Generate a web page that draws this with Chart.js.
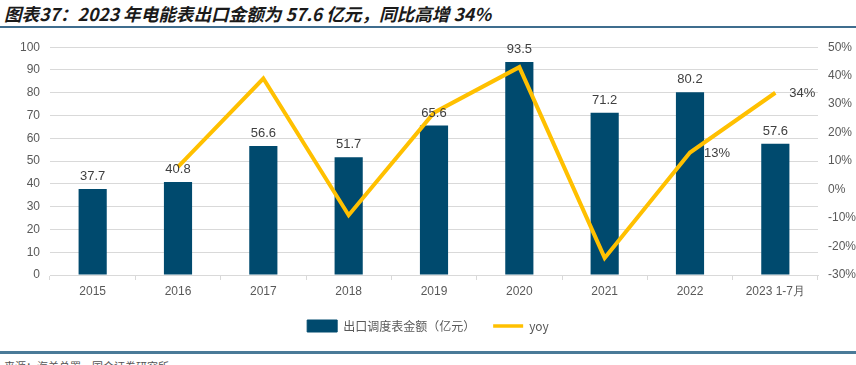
<!DOCTYPE html>
<html>
<head>
<meta charset="utf-8">
<script src="https://cdn.jsdelivr.net/npm/chart.js@4.4.0/dist/chart.umd.min.js"></script>
<style>
  body { margin: 0; background: #fff; width: 856px; height: 365px; overflow: hidden; position: relative; font-family: "Noto Sans CJK SC", "Liberation Sans", sans-serif; }
  .title { position: absolute; left: 4px; top: 1px; font-size: 17.6px; font-weight: bold; font-style: italic; color: #1a1a1a; white-space: nowrap; }
  .topline { position: absolute; left: 0; top: 26px; width: 856px; height: 2px; background: #3f6d8e; }
  .box { position: absolute; left: 0; top: 30px; width: 856px; height: 312px; }
  .bottomline { position: absolute; left: 0; top: 351px; width: 856px; height: 3px; background: #4a7a98; }
  .source { position: absolute; left: 4px; top: 358px; font-size: 11px; color: #555; white-space: nowrap; }
</style>
</head>
<body>
<div class="title">图表37：2023 年电能表出口金额为 57.6 亿元，同比高增 34%</div>
<div class="topline"></div>
<div class="box"><canvas id="chart"></canvas></div>
<div class="bottomline"></div>
<div class="source">来源：海关总署，国金证券研究所</div>
<script>
// categories and values
const categories = ["2015", "2016", "2017", "2018", "2019", "2020", "2021", "2022", "2023 1-7月"];
const exportValues = [37.7, 40.8, 56.6, 51.7, 65.6, 93.5, 71.2, 80.2, 57.6];
const yoyValues = [null, 8, 39, -9, 27, 43, -24, 13, 34];
const yoyLabels = [null, null, null, null, null, null, null, "13%", "34%"];

const barColor = "#004a6e";
const lineColor = "#ffc000";
const textColor = "#595959";
const gridColor = "#d9d9d9";

// draw value labels over bars and chosen line points
const valueLabels = {
  id: "valueLabels",
  afterDatasetsDraw(chart) {
    const ctx = chart.ctx;
    ctx.save();
    ctx.fillStyle = "#404040";
    ctx.font = "13px 'Liberation Sans', Arial, sans-serif";

    const bars = chart.getDatasetMeta(0);
    ctx.textAlign = "center";
    ctx.textBaseline = "bottom";
    bars.data.forEach((bar, i) => {
      ctx.fillText(exportValues[i].toFixed(1), bar.x, bar.y - 6);
    });

    const line = chart.getDatasetMeta(1);
    ctx.textAlign = "left";
    ctx.textBaseline = "middle";
    line.data.forEach((pt, i) => {
      if (yoyLabels[i]) ctx.fillText(yoyLabels[i], pt.x + 14, pt.y + 1);
    });
    ctx.restore();
  },
};

const ctx = document.getElementById("chart").getContext("2d");
const exportChart = new Chart(ctx, {
  data: {
    labels: categories,
    datasets: [
      {
        type: "bar",
        label: "出口调度表金额（亿元）",
        data: exportValues,
        backgroundColor: barColor,
        yAxisID: "y",
        barPercentage: 0.33,
        categoryPercentage: 1,
        order: 2,
      },
      {
        type: "line",
        label: "yoy",
        data: yoyValues,
        borderColor: lineColor,
        backgroundColor: lineColor,
        borderWidth: 4,
        pointRadius: 0,
        tension: 0,
        yAxisID: "y1",
        order: 1,
      },
    ],
  },
  options: {
    responsive: true,
    maintainAspectRatio: false,
    animation: false,
    layout: { padding: { top: 17, left: 0, right: 0, bottom: 0 } },
    plugins: {
      tooltip: { enabled: false },
      legend: {
        position: "bottom",
        labels: {
          color: textColor,
          font: { size: 12, family: "'Noto Sans CJK SC', sans-serif" },
          usePointStyle: true,
          pointStyleWidth: 30,
          boxHeight: 12,
          padding: 18,
          generateLabels: (chart) =>
            chart.data.datasets.map((ds, i) => ({
              text: ds.label,
              fillStyle: i === 0 ? barColor : lineColor,
              strokeStyle: i === 0 ? barColor : lineColor,
              lineWidth: i === 0 ? 1 : 3.5,
              pointStyle: i === 0 ? "rect" : "line",
              fontColor: textColor,
              hidden: false,
              datasetIndex: i,
            })),
        },
      },
    },
    scales: {
      x: {
        grid: { display: true, drawOnChartArea: false, color: gridColor, tickLength: 5, offset: true },
        border: { color: gridColor },
        ticks: { color: textColor, font: { size: 12, family: "'Liberation Sans', Arial, sans-serif" }, padding: 4, maxRotation: 0 },
        afterFit: (axis) => { axis.height = 27; },
      },
      y: {
        position: "left",
        min: 0,
        max: 100,
        ticks: { stepSize: 10, color: textColor, padding: 10, font: { size: 12, family: "'Liberation Sans', Arial, sans-serif" } },
        grid: { color: gridColor, drawTicks: false },
        border: { display: false },
        afterFit: (axis) => { axis.width = 50; },
      },
      y1: {
        position: "right",
        min: -30,
        max: 50,
        ticks: {
          stepSize: 10,
          color: textColor,
          padding: 10,
          font: { size: 12, family: "'Liberation Sans', Arial, sans-serif" },
          callback: (v) => v + "%",
        },
        grid: { display: false, drawTicks: false },
        border: { display: false },
        afterFit: (axis) => { axis.width = 38; },
      },
    },
  },
  plugins: [valueLabels],
});
</script>
</body>
</html>
